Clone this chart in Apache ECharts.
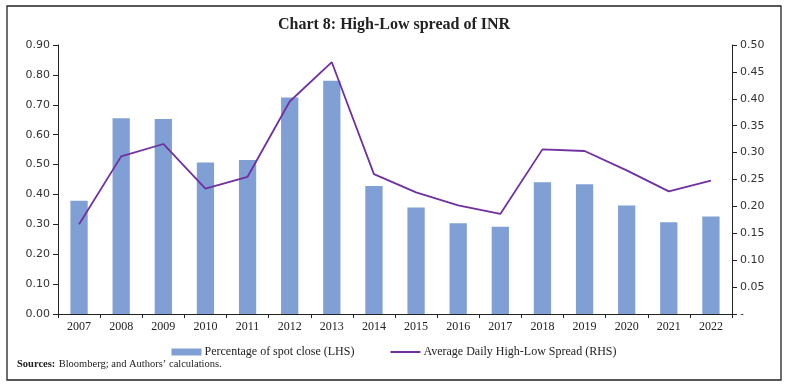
<!DOCTYPE html>
<html>
<head>
<meta charset="utf-8">
<script src="https://cdn.jsdelivr.net/npm/echarts@6/dist/echarts.min.js"></script>
<style>html,body{margin:0;padding:0;background:#fff}#c{width:788px;height:387px}</style>
</head>
<body>
<div id="c"></div>
<script>
const years = ['2007','2008','2009','2010','2011','2012','2013','2014','2015','2016','2017','2018','2019','2020','2021','2022'];
const pctSpotClose = [0.379,0.655,0.652,0.507,0.515,0.724,0.780,0.428,0.356,0.304,0.292,0.441,0.434,0.363,0.307,0.326];
const avgDailySpread = [0.167,0.293,0.316,0.233,0.255,0.395,0.468,0.260,0.226,0.202,0.186,0.306,0.303,0.267,0.228,0.248];

const chart = echarts.init(document.getElementById('c'), null, {renderer:'canvas'});
const numFont = 'DejaVu Sans';
const serif = 'Liberation Serif';
const lineIcon = 'path://M0,0 L0.01,0 L0,0.01 Z M0,7 L0.01,7 L0,6.99 Z M0,2.6 L30,2.6 L30,4.4 L0,4.4 Z';
chart.setOption({
  animation:false,
  backgroundColor:'#fff',
  title:{text:'Chart 8: High-Low spread of INR',left:'center',top:12,
    textStyle:{fontFamily:serif,fontSize:16,fontWeight:'bold',color:'#222'}},
  grid:{left:58,right:56,top:45,bottom:73},
  legend:{left:'center',top:341,itemGap:36,itemWidth:30,itemHeight:7,
    textStyle:{fontFamily:serif,fontSize:12,color:'#222',padding:[0,0,0,-2]},
    data:[{name:'Percentage of spot close (LHS)',icon:'rect'},{name:'Average Daily High-Low Spread (RHS)',icon:lineIcon}]},
  graphic:[
    {type:'rect',shape:{x:7,y:6,width:774,height:374},style:{fill:'none',stroke:'#222',lineWidth:1.3},silent:true},
    {type:'text',left:17,top:358,style:{rich:{b:{fontFamily:serif,fontWeight:'bold',fontSize:10.5,fill:'#222'},n:{fontFamily:serif,fontSize:10.5,fill:'#222'}},text:'{b|Sources:} {n|Bloomberg; and Authors\u2019 calculations.}'}}
  ],
  xAxis:{type:'category',data:years,boundaryGap:true,
    axisLine:{lineStyle:{color:'#222',width:1}},
    axisTick:{show:true,inside:false,length:4,alignWithLabel:false,lineStyle:{color:'#222'}},
    axisLabel:{fontFamily:serif,fontSize:12,color:'#222',margin:7}},
  yAxis:[
    {type:'value',min:0,max:0.9,interval:0.1,splitLine:{show:false},
      axisLine:{show:true,lineStyle:{color:'#222'}},
      axisTick:{show:true,length:5,lineStyle:{color:'#222'}},
      axisLabel:{fontFamily:numFont,fontSize:11,color:'#333',margin:8,formatter:v=>v.toFixed(2)}},
    {type:'value',min:0,max:0.5,interval:0.05,splitLine:{show:false},position:'right',
      axisLine:{show:true,lineStyle:{color:'#222'}},
      axisTick:{show:true,length:5,lineStyle:{color:'#222'}},
      axisLabel:{fontFamily:numFont,fontSize:11,color:'#333',margin:8,formatter:v=>v===0?'-':v.toFixed(2)}}
  ],
  series:[
    {name:'Percentage of spot close (LHS)',type:'bar',data:pctSpotClose,yAxisIndex:0,barWidth:'41%',
      itemStyle:{color:'#7F9FD5'}},
    {name:'Average Daily High-Low Spread (RHS)',type:'line',data:avgDailySpread,yAxisIndex:1,symbol:'none',
      lineStyle:{color:'#7030A0',width:1.8},itemStyle:{color:'#7030A0'}}
  ]
});
</script>
</body>
</html>
